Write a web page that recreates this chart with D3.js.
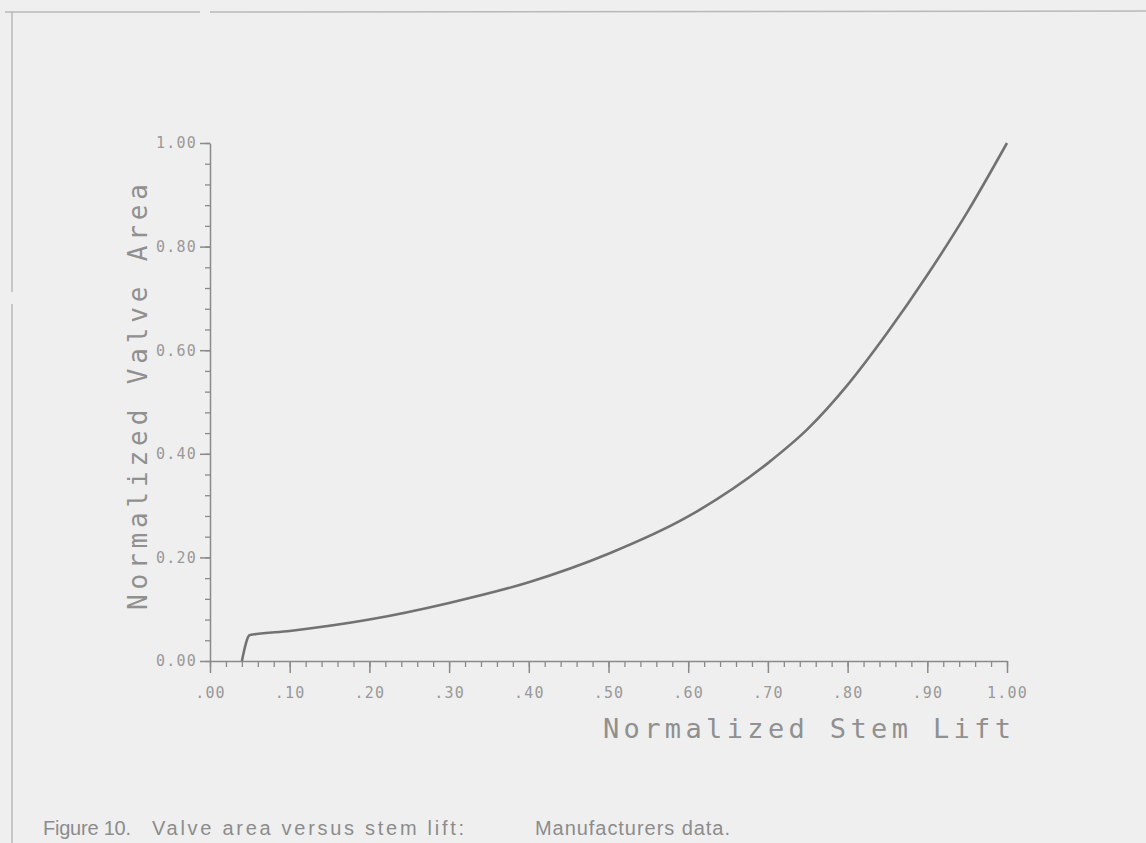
<!DOCTYPE html>
<html><head><meta charset="utf-8">
<script src="https://cdn.jsdelivr.net/npm/d3@7"></script>
<style>html,body{margin:0;padding:0;background:#efefef;}svg{display:block;}</style>
</head><body>
<svg id="c" width="1146" height="843"></svg>
<script>
// Data
const stemLift  = [0.04, 0.05, 0.10, 0.20, 0.30, 0.40, 0.50, 0.60, 0.70, 0.75, 0.80, 0.85, 0.90, 0.95, 1.00];
const valveArea = [0.00, 0.05, 0.058, 0.080, 0.112, 0.152, 0.207, 0.279, 0.382, 0.448, 0.533, 0.634, 0.745, 0.866, 1.00];
const xTickValues = [0, 0.1, 0.2, 0.3, 0.4, 0.5, 0.6, 0.7, 0.8, 0.9, 1.0];
const xTickLabels = [".00", ".10", ".20", ".30", ".40", ".50", ".60", ".70", ".80", ".90", "1.00"];
const yTickValues = [0, 0.2, 0.4, 0.6, 0.8, 1.0];
const yTickLabels = ["0.00", "0.20", "0.40", "0.60", "0.80", "1.00"];
const xTitle = "Normalized Stem Lift";
const yTitle = "Normalized Valve Area";
const captionParts = ["Figure 10.", "Valve area versus stem lift:", "Manufacturers data."];

const svg = d3.select("#c");
svg.append("rect").attr("width",1146).attr("height",843).attr("fill","#efefef");

// page border (scan frame)
const frame = svg.append("g").attr("stroke","#b8b8b8").attr("stroke-width",1.5).attr("fill","none");
frame.append("line").attr("x1",5).attr("y1",12).attr("x2",200).attr("y2",12);
frame.append("line").attr("x1",210).attr("y1",12).attr("x2",1146).attr("y2",11);
frame.append("line").attr("x1",12).attr("y1",12).attr("x2",12).attr("y2",292);
frame.append("line").attr("x1",12).attr("y1",304).attr("x2",12).attr("y2",843);

const x = d3.scaleLinear().domain([0,1]).range([210,1007]);
const y = d3.scaleLinear().domain([0,1]).range([661,143]);

const axisColor = "#8a8a8a";
const tickFont = "'DejaVu Sans Mono', monospace";

// minor ticks
const xMinor = d3.range(0, 1.0001, 0.02);
const yMinor = d3.range(0, 1.0001, 0.04);
svg.append("g").attr("transform",`translate(0,${y(0)})`)
  .call(d3.axisBottom(x).tickValues(xMinor).tickSize(6).tickFormat(""))
  .call(g=>g.select(".domain").remove())
  .call(g=>g.selectAll("line").attr("stroke",axisColor).attr("stroke-width",1.3));
svg.append("g").attr("transform",`translate(${x(0)},0)`)
  .call(d3.axisLeft(y).tickValues(yMinor).tickSize(5).tickFormat(""))
  .call(g=>g.select(".domain").remove())
  .call(g=>g.selectAll("line").attr("stroke",axisColor).attr("stroke-width",1.3));

// major x axis
const xa = svg.append("g").attr("transform",`translate(0,${y(0)})`)
  .call(d3.axisBottom(x).tickValues(xTickValues).tickSize(12).tickPadding(14)
    .tickFormat((d,i)=>xTickLabels[i]).tickSizeOuter(0));
xa.select(".domain").attr("stroke",axisColor).attr("stroke-width",1.5);
xa.selectAll("line").attr("stroke",axisColor).attr("stroke-width",1.5);
xa.selectAll("text").attr("fill","#999").attr("font-family",tickFont)
  .attr("font-size",15).attr("letter-spacing","1.2px");

// major y axis
const ya = svg.append("g").attr("transform",`translate(${x(0)},0)`)
  .call(d3.axisLeft(y).tickValues(yTickValues).tickSize(10).tickPadding(3)
    .tickFormat((d,i)=>yTickLabels[i]).tickSizeOuter(0));
ya.select(".domain").attr("stroke",axisColor).attr("stroke-width",1.5);
ya.selectAll("line").attr("stroke",axisColor).attr("stroke-width",1.5);
ya.selectAll("text").attr("fill","#999").attr("font-family",tickFont)
  .attr("font-size",15).attr("letter-spacing","1.2px");

// curve
const pts = stemLift.map((v,i)=>[v, valveArea[i]]);
svg.append("path").datum(pts)
  .attr("d", d3.line().x(d=>x(d[0])).y(d=>y(d[1])).curve(d3.curveMonotoneX))
  .attr("fill","none").attr("stroke","#727272").attr("stroke-width",2.6);

// titles
svg.append("text").attr("x",603).attr("y",738).text(xTitle)
  .attr("font-family",tickFont).attr("font-size",27).attr("fill","#909090")
  .attr("textLength",408).attr("lengthAdjust","spacing");
svg.append("text").attr("transform","translate(147,610) rotate(-90)").text(yTitle)
  .attr("font-family",tickFont).attr("font-size",26).attr("fill","#909090")
  .attr("textLength",426).attr("lengthAdjust","spacing");

// caption
const capX = [43, 152, 535];
const capW = [88, 312, 195];
captionParts.forEach((t,i)=>{
  svg.append("text").attr("x",capX[i]).attr("y",835).text(t)
    .attr("font-family","'Liberation Sans', Arial, sans-serif").attr("font-size",20)
    .attr("fill","#8c8c8c").attr("textLength",capW[i]).attr("lengthAdjust","spacing");
});
</script>
</body></html>
